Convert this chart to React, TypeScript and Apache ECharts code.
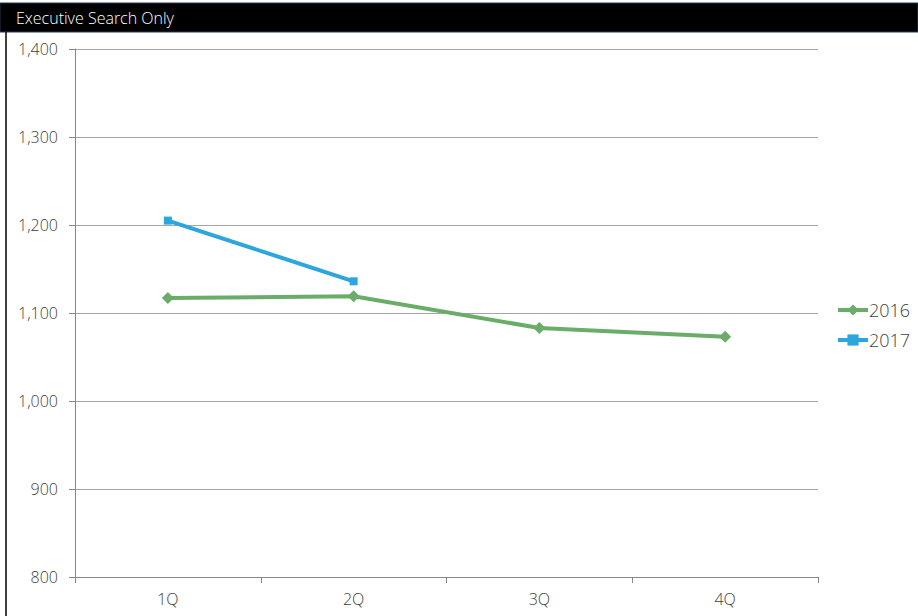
import React, { useEffect, useRef } from "react";
import * as echarts from "echarts";

const categories = ["1Q", "2Q", "3Q", "4Q"];
const series2016 = [1117, 1119, 1083, 1073];
const series2017 = [1205, 1136, null, null];
const seriesNames = ["2016", "2017"];
const titleText = "Executive Search Only";

const FONT = "'Open Sans', 'Noto Sans', sans-serif";

export default function App() {
  const ref = useRef<HTMLDivElement>(null);
  useEffect(() => {
    const chart = echarts.init(ref.current!, null, { renderer: "svg" });
    chart.setOption({
      animation: false,
      backgroundColor: "#ffffff",
      textStyle: { fontFamily: FONT },
      graphic: [
        {
          type: "rect",
          shape: { x: 0, y: 3, width: 918, height: 29 },
          style: { fill: "#000000", stroke: "#24375a", lineWidth: 1 },
        },
        {
          type: "text",
          x: 16,
          y: 18,
          style: {
            text: titleText,
            fill: "#ffffff",
            font: `300 16px ${FONT}`,
            verticalAlign: "middle",
          },
        },
        {
          type: "line",
          shape: { x1: 6, y1: 32, x2: 6, y2: 616 },
          style: { stroke: "#000000", lineWidth: 1.5 },
        },
      ],
      grid: { left: 75, right: 100, top: 49, bottom: 39, containLabel: false },
      legend: {
        orient: "vertical",
        left: 831,
        top: 296,
        itemWidth: 30,
        itemHeight: 14,
        itemGap: 12,
        data: seriesNames,
        lineStyle: { width: 4 },
        textStyle: { fontSize: 18, fontWeight: 300, color: "#404040", fontFamily: FONT, padding: [0, 0, 0, -4] },
      },
      xAxis: {
        type: "category",
        data: categories,
        boundaryGap: true,
        axisLine: { lineStyle: { color: "#868686", width: 1 } },
        axisTick: { show: true, length: 6, lineStyle: { color: "#868686" } },
        axisLabel: { fontSize: 16, fontWeight: 300, color: "#404040", margin: 14, fontFamily: FONT },
      },
      yAxis: {
        type: "value",
        min: 800,
        max: 1400,
        interval: 100,
        axisLine: { show: true, lineStyle: { color: "#868686", width: 1 } },
        axisTick: { show: true, length: 6, lineStyle: { color: "#868686" } },
        splitLine: { lineStyle: { color: "#a6a6a6", width: 1 } },
        axisLabel: {
          fontSize: 16,
          fontWeight: 300,
          color: "#404040",
          margin: 17,
          fontFamily: FONT,
          formatter: (v: number) => v.toLocaleString("en-US"),
        },
      },
      series: [
        {
          name: seriesNames[0],
          type: "line",
          data: series2016,
          symbol: "diamond",
          symbolSize: 12,
          lineStyle: { width: 4, color: "#69ad68" },
          itemStyle: { color: "#69ad68" },
        },
        {
          name: seriesNames[1],
          type: "line",
          data: series2017,
          symbol: "rect",
          symbolSize: 8,
          lineStyle: { width: 4, color: "#2ca6dc" },
          itemStyle: { color: "#2ca6dc" },
        },
      ],
    });
    return () => chart.dispose();
  }, []);
  return (
    <div
      ref={ref}
      style={{ position: "absolute", left: 0, top: 0, width: 918, height: 616 }}
    />
  );
}
